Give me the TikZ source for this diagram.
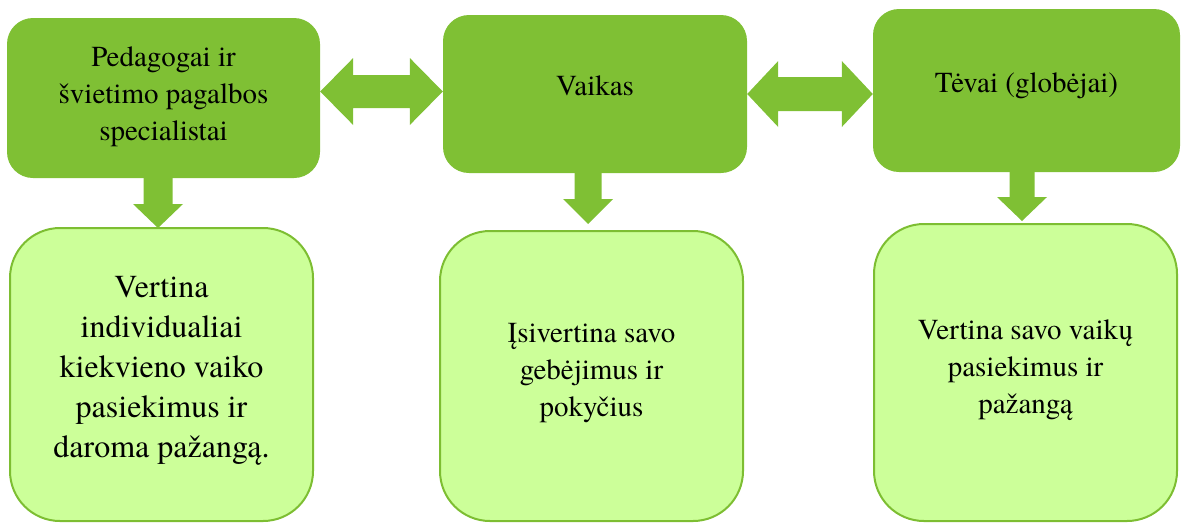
\documentclass[tikz,border=0pt]{standalone}
\usepackage{fontspec}
\setmainfont{texgyretermes}[Extension=.otf, UprightFont=*-regular, BoldFont=*-bold, ItalicFont=*-italic, BoldItalicFont=*-bolditalic]
\usetikzlibrary{calc}
\definecolor{dgreen}{RGB}{127,192,52}
\definecolor{lgreen}{RGB}{204,255,153}
\definecolor{lborder}{RGB}{125,190,50}
\newcommand{\boxtext}[2]{\raisebox{#1}[\height][\depth]{\begin{tabular}{@{}c@{}}#2\end{tabular}}}
\begin{document}
\begin{tikzpicture}[x=1pt,y=-1pt,
  topbox/.style={fill=dgreen, draw=none, rounded corners=26pt, inner sep=0pt,
    font=\fontsize{29}{37}\selectfont},
  botbox/.style={fill=lgreen, draw=lborder, line width=2pt, rounded corners=50pt, inner sep=0pt,
    font=\fontsize{29}{37}\selectfont},
  conn/.style={fill=dgreen, draw=none}]
\useasboundingbox (0,0) rectangle (1182,523);

% top boxes
\node[topbox, minimum width=313pt, minimum height=160pt] (ped) at (163.5,98)
  {\boxtext{2pt}{Pedagogai ir\\švietimo pagalbos\\specialistai}};
\node[topbox, minimum width=304pt, minimum height=158pt] (vai) at (595,94)
  {\boxtext{6pt}{Vaikas}};
\node[topbox, minimum width=307pt, minimum height=163pt] (tev) at (1026.5,90.5)
  {\boxtext{5pt}{Tėvai (globėjai)}};

% bottom boxes
\node[botbox, minimum width=303pt, minimum height=293pt] (pb) at (161.5,374.5)
  {\fontsize{32}{40}\selectfont\boxtext{5pt}{Vertina\\individualiai\\kiekvieno vaiko\\pasiekimus ir\\daroma pažangą.}};
\node[botbox, minimum width=303pt, minimum height=290pt] (vb) at (591.5,376)
  {\boxtext{4pt}{Įsivertina savo\\gebėjimus ir\\pokyčius}};
\node[botbox, minimum width=303pt, minimum height=297pt] (tb) at (1025.5,372.5)
  {\boxtext{3pt}{Vertina savo vaikų\\pasiekimus ir\\pažangą}};

% double arrows
\fill[conn] let \p1=(ped.east), \p2=(vai.west) in
  (\x1,-91.5pt) -- (\x1+33pt,-58pt) -- (\x1+33pt,-75pt) -- (\x2-33pt,-75pt) --
  (\x2-33pt,-58pt) -- (\x2,-91.5pt) -- (\x2-33pt,-125pt) -- (\x2-33pt,-108pt) --
  (\x1+33pt,-108pt) -- (\x1+33pt,-125pt) -- cycle;
\fill[conn] let \p1=(vai.east), \p2=(tev.west) in
  (\x1,-94pt) -- (\x1+31pt,-61pt) -- (\x1+31pt,-77pt) -- (\x2-31pt,-77pt) --
  (\x2-31pt,-61pt) -- (\x2,-94pt) -- (\x2-31pt,-127pt) -- (\x2-31pt,-111pt) --
  (\x1+31pt,-111pt) -- (\x1+31pt,-127pt) -- cycle;

% down arrows
\fill[conn] let \p1=(ped.south), \p2=(pb.north) in
  (143.5pt,\y1) -- (143.5pt,\y2+23pt) -- (133pt,\y2+23pt) -- (158pt,\y2-1pt) --
  (183pt,\y2+23pt) -- (172.5pt,\y2+23pt) -- (172.5pt,\y1) -- cycle;
\fill[conn] let \p1=(vai.south), \p2=(vb.north) in
  (574.5pt,\y1) -- (574.5pt,\y2+31pt) -- (563pt,\y2+31pt) -- (588pt,\y2+6pt) --
  (613pt,\y2+31pt) -- (601.5pt,\y2+31pt) -- (601.5pt,\y1) -- cycle;
\fill[conn] let \p1=(tev.south), \p2=(tb.north) in
  (1009.5pt,\y1) -- (1009.5pt,\y2+26pt) -- (997pt,\y2+26pt) -- (1022pt,\y2+2pt) --
  (1047pt,\y2+26pt) -- (1034.5pt,\y2+26pt) -- (1034.5pt,\y1) -- cycle;
\end{tikzpicture}
\end{document}
